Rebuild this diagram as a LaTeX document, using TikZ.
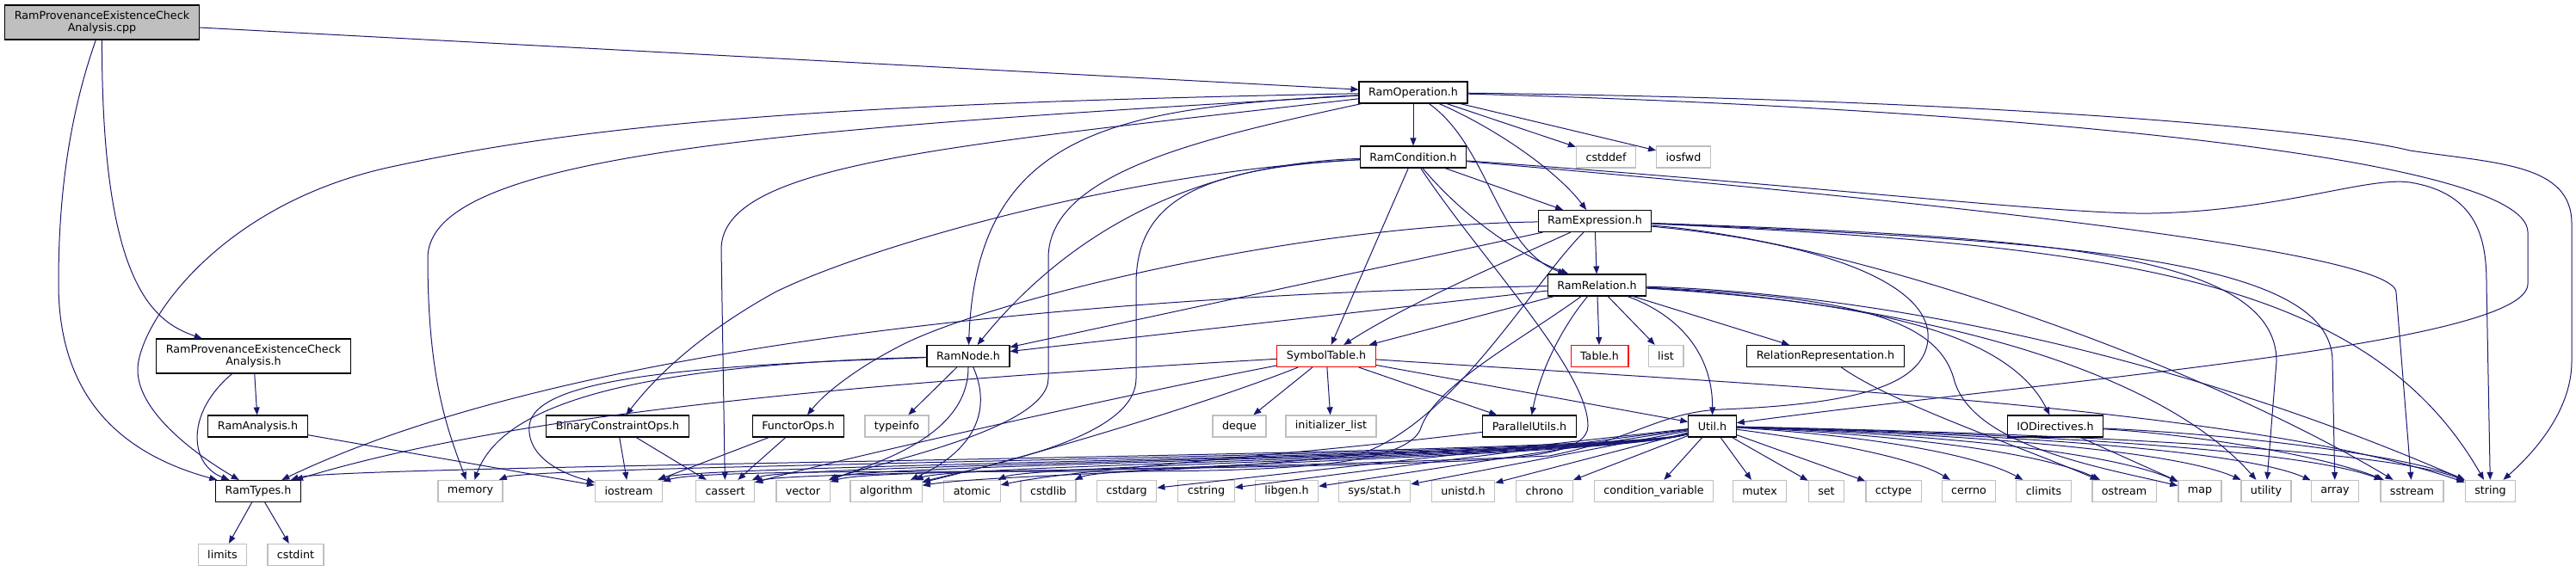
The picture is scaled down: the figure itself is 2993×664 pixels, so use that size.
\documentclass[tikz,border=0pt]{standalone}
\usepackage{fontspec}
\setmainfont{DejaVu Sans}
\usetikzlibrary{arrows.meta}

\definecolor{edgeblue}{HTML}{191970}
\definecolor{sysgray}{HTML}{BFBFBF}

\begin{document}
\begin{tikzpicture}[x=0.5pt, y=-0.5pt,
	every node/.style={rectangle, fill=white, line width=0.55pt, inner xsep=5.5pt, inner ysep=1pt, minimum height=12.5pt, font=\fontsize{6.35}{7.4}\selectfont},
	hdr/.style={draw=black},
	sys/.style={draw=sysgray, line width=0.65pt},
	miss/.style={draw=red},
	two/.style={align=center, minimum height=20pt},
	dep/.style={draw=edgeblue, line width=0.5pt, -{Triangle[length=4.5pt, width=3.5pt]}}]
	\useasboundingbox (0,0) rectangle (2993,664);

	% project headers
	\node[hdr, two, fill=sysgray] (cpp) at (118.5,26) {RamProvenanceExistenceCheck\\Analysis.cpp};
	\node[hdr, two] (provh) at (294.5,414) {RamProvenanceExistenceCheck\\Analysis.h};
	\node[hdr] (ramanalysis) at (299.5,495.5) {RamAnalysis.h};
	\node[hdr] (ramtypes) at (300,571) {RamTypes.h};
	\node[hdr] (ramop) at (1642,107.5) {RamOperation.h};
	\node[hdr] (ramcond) at (1642,182.5) {RamCondition.h};
	\node[hdr] (ramexpr) at (1853,257) {RamExpression.h};
	\node[hdr] (ramrel) at (1855.5,331.5) {RamRelation.h};
	\node[hdr] (ramnode) at (1125,414) {RamNode.h};
	\node[miss] (symtab) at (1541,414) {SymbolTable.h};
	\node[miss] (table) at (1858.5,414) {Table.h};
	\node[hdr] (relrep) at (2121,414) {RelationRepresentation.h};
	\node[hdr] (binop) at (717.5,495.5) {BinaryConstraintOps.h};
	\node[hdr] (functor) at (927.5,495.5) {FunctorOps.h};
	\node[hdr] (parutils) at (1777,495.5) {ParallelUtils.h};
	\node[hdr] (util) at (1989.5,495.5) {Util.h};
	\node[hdr] (iodir) at (2388,495.5) {IODirectives.h};

	% system headers
	\node[sys] (cstddef) at (1866,182.5) {cstddef};
	\node[sys] (iosfwd) at (1956,182.5) {iosfwd};
	\node[sys] (list) at (1935.5,414) {list};
	\node[sys] (typeinfo) at (1042,495.5) {typeinfo};
	\node[sys] (deque) at (1440,495.5) {deque};
	\node[sys] (initlist) at (1546.5,495.5) {initializer\_list};
	\node[sys] (limits) at (258.5,645) {limits};
	\node[sys] (cstdint) at (343.5,645) {cstdint};
	\node[sys] (memory) at (546.5,571) {memory};
	\node[sys] (iostream) at (730.5,571) {iostream};
	\node[sys] (cassert) at (842.5,571) {cassert};
	\node[sys] (vector) at (933,571) {vector};
	\node[sys] (algorithm) at (1029.5,571) {algorithm};
	\node[sys] (atomic) at (1129.5,571) {atomic};
	\node[sys] (cstdlib) at (1218,571) {cstdlib};
	\node[sys] (cstdarg) at (1309,571) {cstdarg};
	\node[sys] (cstring) at (1401.5,571) {cstring};
	\node[sys] (libgen) at (1495,571) {libgen.h};
	\node[sys] (sysstat) at (1597,571) {sys/stat.h};
	\node[sys] (unistd) at (1700,571) {unistd.h};
	\node[sys] (chrono) at (1794.5,571) {chrono};
	\node[sys] (condvar) at (1921.5,571) {condition\_variable};
	\node[sys] (mutex) at (2044.5,571) {mutex};
	\node[sys] (set) at (2122,571) {set};
	\node[sys] (cctype) at (2200,571) {cctype};
	\node[sys] (cerrno) at (2287.5,571) {cerrno};
	\node[sys] (climits) at (2374.5,571) {climits};
	\node[sys] (ostream) at (2468,571) {ostream};
	\node[sys] (map) at (2556,571) {map};
	\node[sys] (utility) at (2633,571) {utility};
	\node[sys] (array) at (2713,571) {array};
	\node[sys] (sstream) at (2802.5,571) {sstream};
	\node[sys] (string) at (2893.5,571) {string};

	% RamProvenanceExistenceCheckAnalysis
	\draw[dep] (cpp) -- (ramop);
	\draw[dep] (cpp) .. controls (118,330) and (178,374) .. (provh);
	\draw[dep] (cpp) .. controls (75,150) and (68,250) .. (68,330) .. controls (68,470) and (150,530) .. (ramtypes);
	\draw[dep] (provh) -- (ramanalysis);
	\draw[dep] (provh) .. controls (215,480) and (220,540) .. (ramtypes);
	\draw[dep] (ramanalysis) -- (iostream);
	\draw[dep] (ramtypes) -- (limits);
	\draw[dep] (ramtypes) -- (cstdint);

	% RamOperation.h
	\draw[dep] (ramop) -- (ramcond);
	\draw[dep] (ramop) -- (cstddef);
	\draw[dep] (ramop) -- (iosfwd);
	\draw[dep] (ramop) .. controls (1740,150) and (1810,200) .. (ramexpr);
	\draw[dep] (ramop) .. controls (1730,170) and (1740,290) .. (ramrel);
	\draw[dep] (ramop) .. controls (1300,125) and (1135,150) .. (ramnode);
	\draw[dep] (ramop) .. controls (1000,120) and (700,140) .. (450,195) .. controls (250,240) and (160,380) .. (160,430) .. controls (160,480) and (230,530) .. (ramtypes);
	\draw[dep] (ramop) .. controls (900,150) and (497,180) .. (497,300) .. controls (497,440) and (520,500) .. (memory);
	\draw[dep] (ramop) .. controls (1100,170) and (838,190) .. (838,290) -- (cassert);
	\draw[dep] (ramop) .. controls (1400,160) and (1218,200) .. (1218,300) -- (1218,440) .. controls (1218,500) and (1010,540) .. (vector);
	\draw[dep] (ramop) .. controls (2300,115) and (2700,150) .. (2800,175) .. controls (2900,190) and (2988,190) .. (2988,260) -- (2988,420) .. controls (2988,480) and (2940,530) .. (string);
	\draw[dep] (ramop) .. controls (2300,125) and (2937,180) .. (2937,270) -- (2937,330) .. controls (2937,400) and (2400,440) .. (util);

	% RamCondition.h
	\draw[dep] (ramcond) -- (ramexpr);
	\draw[dep] (ramcond) .. controls (1690,240) and (1750,290) .. (ramrel);
	\draw[dep] (ramcond) -- (symtab);
	\draw[dep] (ramcond) .. controls (1400,190) and (1250,260) .. (ramnode);
	\draw[dep] (ramcond) .. controls (1300,200) and (1000,290) .. (900,340) .. controls (810,390) and (760,440) .. (binop);
	\draw[dep] (ramcond) .. controls (1400,195) and (1320,230) .. (1320,330) -- (1320,440) .. controls (1320,510) and (1150,540) .. (algorithm);
	\draw[dep] (ramcond) .. controls (1720,300) and (1845,430) .. (1845,495) .. controls (1845,525) and (1780,532) .. (1700,536) .. controls (1400,548) and (1010,545) .. (vector);
	\draw[dep] (ramcond) .. controls (2100,215) and (2400,250) .. (2500,248) .. controls (2650,245) and (2750,205) .. (2800,212) .. controls (2880,225) and (2889,280) .. (2889,330) -- (string);
	\draw[dep] (ramcond) .. controls (2200,230) and (2784,290) .. (2784,340) -- (sstream);

	% RamExpression.h
	\draw[dep] (ramexpr) -- (ramrel);
	\draw[dep] (ramexpr) .. controls (1760,300) and (1640,350) .. (symtab);
	\draw[dep] (ramexpr) -- (ramnode);
	\draw[dep] (ramexpr) .. controls (1500,262) and (1150,350) .. (1050,400) .. controls (1000,425) and (960,455) .. (functor);
	\draw[dep] (ramexpr) .. controls (1780,330) and (1690,490) .. (1580,528) .. controls (1400,550) and (1150,552) .. (algorithm);
	\draw[dep] (ramexpr) .. controls (2150,285) and (2245,340) .. (2240,395) .. controls (2235,450) and (2150,470) .. (2000,476) .. controls (1930,479) and (1900,510) .. (1800,530) .. controls (1400,548) and (920,548) .. (cassert);
	\draw[dep] (ramexpr) .. controls (2350,275) and (2645,290) .. (2645,420) -- (utility);
	\draw[dep] (ramexpr) .. controls (2400,280) and (2710,300) .. (2710,420) -- (array);
	\draw[dep] (ramexpr) .. controls (2450,285) and (2750,320) .. (string);
	\draw[dep] (ramexpr) .. controls (2150,280) and (2550,420) .. (sstream);

	% RamRelation.h
	\draw[dep] (ramrel) -- (symtab);
	\draw[dep] (ramrel) -- (ramnode);
	\draw[dep] (ramrel) .. controls (1400,340) and (700,380) .. (ramtypes);
	\draw[dep] (ramrel) -- (table);
	\draw[dep] (ramrel) -- (list);
	\draw[dep] (ramrel) -- (relrep);
	\draw[dep] (ramrel) .. controls (1815,380) and (1790,430) .. (parutils);
	\draw[dep] (ramrel) .. controls (1960,370) and (1990,420) .. (util);
	\draw[dep] (ramrel) .. controls (2150,350) and (2330,380) .. (iodir);
	\draw[dep] (ramrel) .. controls (2150,345) and (2250,370) .. (2270,440) .. controls (2290,520) and (2450,545) .. (map);
	\draw[dep] (ramrel) .. controls (2200,350) and (2500,420) .. (utility);
	\draw[dep] (ramrel) .. controls (2150,340) and (2500,400) .. (string);
	\draw[dep] (ramrel) .. controls (1760,400) and (1665,450) .. (1650,500) .. controls (1630,540) and (1500,548) .. (1300,548) .. controls (1000,548) and (810,548) .. (iostream);

	% SymbolTable.h
	\draw[dep] (symtab) -- (deque);
	\draw[dep] (symtab) -- (initlist);
	\draw[dep] (symtab) -- (parutils);
	\draw[dep] (symtab) -- (util);
	\draw[dep] (symtab) .. controls (2000,445) and (2600,470) .. (string);
	\draw[dep] (symtab) .. controls (1000,445) and (600,480) .. (ramtypes);
	\draw[dep] (symtab) .. controls (1300,460) and (950,540) .. (cassert);
	\draw[dep] (symtab) .. controls (1400,470) and (1200,530) .. (algorithm);

	% RamNode.h
	\draw[dep] (ramnode) -- (typeinfo);
	\draw[dep] (ramnode) .. controls (700,425) and (580,480) .. (memory);
	\draw[dep] (ramnode) .. controls (800,425) and (620,440) .. (615,495) .. controls (612,530) and (650,550) .. (iostream);
	\draw[dep] (ramnode) .. controls (1125,510) and (1010,540) .. (vector);
	\draw[dep] (ramnode) .. controls (1150,470) and (1140,520) .. (algorithm);

	% small headers
	\draw[dep] (binop) -- (iostream);
	\draw[dep] (binop) -- (cassert);
	\draw[dep] (functor) -- (iostream);
	\draw[dep] (functor) -- (cassert);
	\draw[dep] (parutils) .. controls (1500,530) and (1250,545) .. (atomic);
	\draw[dep] (relrep) .. controls (2200,470) and (2350,520) .. (ostream);
	\draw[dep] (iodir) -- (map);
	\draw[dep] (iodir) .. controls (2550,505) and (2700,530) .. (sstream);
	\draw[dep] (iodir) .. controls (2600,505) and (2800,530) .. (string);

	% Util.h
	\draw[dep] (util) .. controls (1880,530) and (390,540) .. (ramtypes);
	\draw[dep] (util) .. controls (1880,530) and (625,540) .. (memory);
	\draw[dep] (util) .. controls (1880,530) and (810,540) .. (iostream);
	\draw[dep] (util) .. controls (1880,530) and (917,540) .. (cassert);
	\draw[dep] (util) .. controls (1880,530) and (1004,540) .. (vector);
	\draw[dep] (util) .. controls (1880,530) and (1110,540) .. (algorithm);
	\draw[dep] (util) .. controls (1880,530) and (1200,540) .. (atomic);
	\draw[dep] (util) .. controls (1880,530) and (1290,540) .. (cstdlib);
	\draw[dep] (util) -- (cstdarg);
	\draw[dep] (util) -- (cstring);
	\draw[dep] (util) -- (libgen);
	\draw[dep] (util) -- (sysstat);
	\draw[dep] (util) -- (unistd);
	\draw[dep] (util) -- (chrono);
	\draw[dep] (util) -- (condvar);
	\draw[dep] (util) -- (mutex);
	\draw[dep] (util) -- (set);
	\draw[dep] (util) -- (cctype);
	\draw[dep] (util) .. controls (2100,510) and (2220,530) .. (cerrno);
	\draw[dep] (util) .. controls (2150,505) and (2290,525) .. (climits);
	\draw[dep] (util) .. controls (2200,505) and (2370,525) .. (ostream);
	\draw[dep] (util) .. controls (2250,505) and (2450,525) .. (map);
	\draw[dep] (util) .. controls (2300,505) and (2530,525) .. (utility);
	\draw[dep] (util) .. controls (2350,505) and (2610,525) .. (array);
	\draw[dep] (util) .. controls (2400,505) and (2680,525) .. (sstream);
	\draw[dep] (util) .. controls (2450,505) and (2780,525) .. (string);
\end{tikzpicture}
\end{document}
